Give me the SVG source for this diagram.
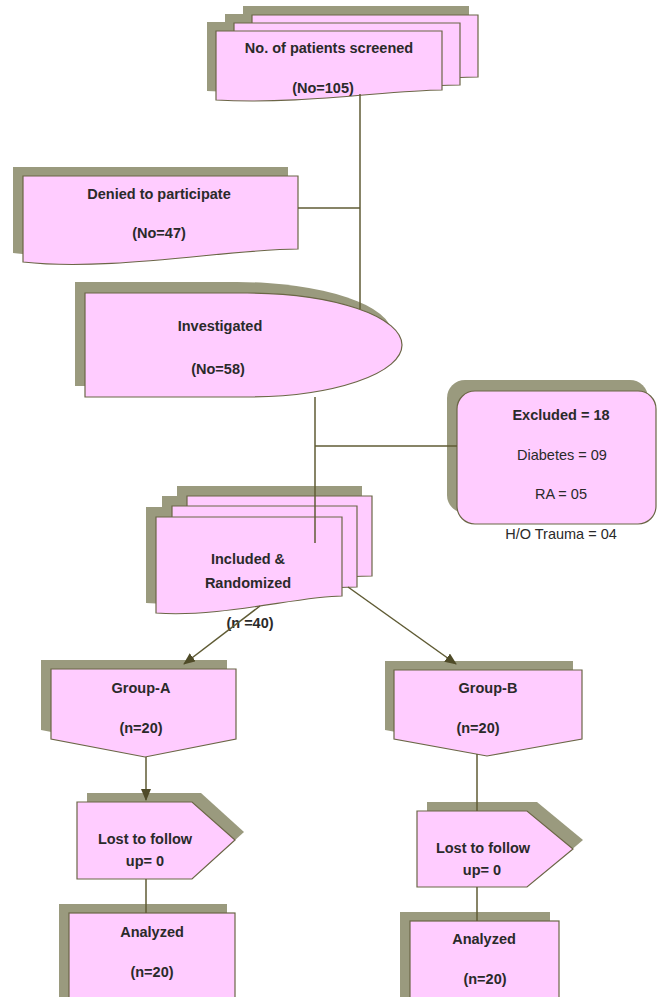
<svg xmlns="http://www.w3.org/2000/svg" width="657" height="997" viewBox="0 0 657 997">
<defs>
<style>
.sh{fill:#9a9a7e;stroke:none}
.pk{fill:#ffccff;stroke:#6b6646;stroke-width:1.2}
.ln{fill:none;stroke:#5f5b34;stroke-width:1.5}
text{font-family:"Liberation Sans",Arial,sans-serif;font-size:14.5px;fill:#2a2a2a;text-anchor:middle}
.b{font-weight:bold}
</style>
<marker id="ah" markerUnits="userSpaceOnUse" markerWidth="12" markerHeight="10" viewBox="0 0 12 10" refX="11" refY="5" orient="auto">
<path d="M0,0 L12,5 L0,10 Z" fill="#4f4b28"/>
</marker>
</defs>
<rect width="657" height="997" fill="#ffffff"/>

<g id="screened">
<path class="sh" d="M243,6 H469 V68 C420,68 320,80 243,76 Z"/>
<path class="sh" d="M225,14 H451 V76 C400,76 300,88 225,84 Z"/>
<path class="sh" d="M207,22 H433 V81 C380,81 290,96 207,91 Z"/>
<path class="pk" d="M252,15 H478 V77 C430,77 330,89 252,85 Z"/>
<path class="pk" d="M234,23 H460 V85 C410,85 310,97 234,93 Z"/>
<path class="pk" d="M216,31 H442 V90 C390,90 300,105 216,100 Z"/>
<text class="b" x="329" y="53">No. of patients screened</text>
<text class="b" x="323" y="93">(No=105)</text>
</g>

<g id="denied">
<path class="sh" d="M13,167 H288 V240 C220,240 100,263 13,253 Z"/>
<path class="pk" d="M23,176 H298 V249 C230,249 110,272 23,262 Z"/>
<text class="b" x="159" y="199">Denied to participate</text>
<text class="b" x="159" y="238">(No=47)</text>
</g>

<g id="investigated">
<path class="sh" d="M75,282 H237 A155,52 0 0 1 237,386 H75 Z"/>
<path class="pk" d="M85,293 H247 A155,52 0 0 1 247,397 H85 Z"/>
<text class="b" x="220" y="331">Investigated</text>
<text class="b" x="218" y="374">(No=58)</text>
</g>

<g id="excluded">
<rect class="sh" x="447" y="380" width="201" height="133" rx="18"/>
<rect class="pk" x="457" y="391" width="199" height="133" rx="18"/>
<text class="b" x="561" y="420">Excluded = 18</text>
<text x="562" y="460">Diabetes = 09</text>
<text x="561" y="499">RA = 05</text>
<text x="561" y="539">H/O Trauma = 04</text>
</g>

<g id="included">
<path class="sh" d="M177,486 H362 V566 C320,566 240,578 177,575 Z"/>
<path class="sh" d="M162,496 H347 V577 C305,577 225,589 162,586 Z"/>
<path class="sh" d="M146,507 H332 V586 C290,586 210,608 146,603 Z"/>
<path class="pk" d="M187,496 H372 V576 C330,576 250,588 187,585 Z"/>
<path class="pk" d="M172,506 H357 V587 C315,587 235,599 172,596 Z"/>
<path class="pk" d="M156,517 H342 V596 C300,596 220,618 156,613 Z"/>
<text class="b" x="248" y="564">Included &amp;</text>
<text class="b" x="248" y="588">Randomized</text>
<text class="b" x="250" y="628">(n =40)</text>
</g>

<g id="groupA">
<path class="sh" d="M41,660 H227 V730 L135,748 L41,730 Z"/>
<path class="pk" d="M51,669 H236 V739 L145,757 L51,739 Z"/>
<text class="b" x="141" y="693">Group-A</text>
<text class="b" x="141" y="733">(n=20)</text>
</g>

<g id="groupB">
<path class="sh" d="M385,661 H573 V730 L478,747 L385,730 Z"/>
<path class="pk" d="M394,670 H582 V739 L487,756 L394,739 Z"/>
<text class="b" x="488" y="693">Group-B</text>
<text class="b" x="478" y="733">(n=20)</text>
</g>

<g id="lostA">
<path class="sh" d="M87,793 H201 L244,832 L201,871 H87 Z"/>
<path class="pk" d="M77,802 H192 L235,840 L192,879 H77 Z"/>
<text class="b" x="145" y="844">Lost to follow</text>
<text class="b" x="145" y="866">up= 0</text>
</g>

<g id="lostB">
<path class="sh" d="M427,802 H537 L583,840 L537,879 H427 Z"/>
<path class="pk" d="M417,811 H527 L573,849 L527,887 H417 Z"/>
<text class="b" x="483" y="853">Lost to follow</text>
<text class="b" x="482" y="875">up= 0</text>
</g>

<g id="analyzedA">
<rect class="sh" x="59" y="904" width="168" height="100"/>
<rect class="pk" x="69" y="913" width="166" height="100"/>
<text class="b" x="152" y="937">Analyzed</text>
<text class="b" x="152" y="977">(n=20)</text>
</g>

<g id="analyzedB">
<rect class="sh" x="400" y="912" width="150" height="100"/>
<rect class="pk" x="410" y="921" width="149" height="100"/>
<text class="b" x="484" y="944">Analyzed</text>
<text class="b" x="485" y="984">(n=20)</text>
</g>

<g id="connectors">
<path class="ln" d="M360,94 V309"/>
<path class="ln" d="M298,208 H360"/>
<path class="ln" d="M315,397 V543"/>
<path class="ln" d="M315,446 H457"/>
<path class="ln" d="M260,606 L184,664" marker-end="url(#ah)"/>
<path class="ln" d="M348,587 L456,664" marker-end="url(#ah)"/>
<path class="ln" d="M146,757 V800" marker-end="url(#ah)"/>
<path class="ln" d="M146,879 V913"/>
<path class="ln" d="M477,754 V811"/>
<path class="ln" d="M477,887 V921"/>
</g>
</svg>
